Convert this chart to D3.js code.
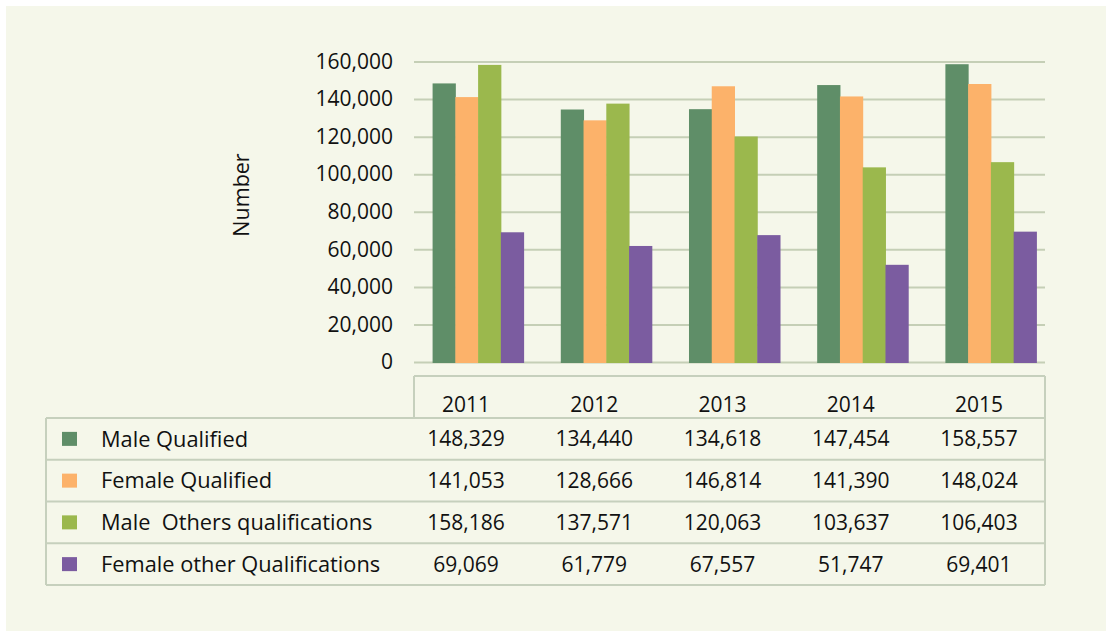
<!DOCTYPE html>
<html>
<head>
<meta charset="utf-8">
<script src="https://cdn.jsdelivr.net/npm/d3@7"></script>
<style>
  html, body { margin: 0; padding: 0; background: #ffffff; }
  svg { display: block; }
  text { font-family: "Open Sans", sans-serif; fill: #111111; }
</style>
</head>
<body>
<svg id="chart" width="1106" height="631"></svg>
<script>
// ---- data ----
const years = ["2011", "2012", "2013", "2014", "2015"];
const seriesNames = ["Male Qualified", "Female Qualified", "Male  Others qualifications", "Female other Qualifications"];
const maleQualified = [148329, 134440, 134618, 147454, 158557];
const femaleQualified = [141053, 128666, 146814, 141390, 148024];
const maleOthers = [158186, 137571, 120063, 103637, 106403];
const femaleOthers = [69069, 61779, 67557, 51747, 69401];
const yTicks = [0, 20000, 40000, 60000, 80000, 100000, 120000, 140000, 160000];
const colors = ["#5f8e68", "#fcb26a", "#9bb84d", "#7b5ca0"];

const seriesValues = [maleQualified, femaleQualified, maleOthers, femaleOthers];

const svg = d3.select("#chart");
const gridColor = "#c5cfb6";
const borderColor = "#c6d0bd";

// background panel
svg.append("rect").attr("x", 6).attr("y", 6).attr("width", 1100).attr("height", 625)
  .attr("fill", "#f5f7ea");

// scales
const plotLeft = 414, plotRight = 1045, plotTop = 61.5, plotBottom = 362;
const y = d3.scaleLinear().domain([0, 160000]).range([plotBottom, plotTop]);
const x0 = d3.scaleBand().domain(years).range([414, 1055]).paddingInner(0.29).paddingOuter(0.145);
const x1 = d3.scaleBand().domain(d3.range(seriesNames.length)).range([0, x0.bandwidth()]);

// gridlines
const grid = svg.append("g").attr("transform", `translate(${plotLeft},0)`)
  .call(d3.axisLeft(y).tickValues(yTicks).tickSize(-(plotRight - plotLeft)).tickFormat(""));
grid.select(".domain").remove();
grid.selectAll("line").attr("stroke", gridColor).attr("stroke-width", 2);

// y labels
const yAxis = svg.append("g").attr("transform", `translate(${plotLeft},0)`)
  .call(d3.axisLeft(y).tickValues(yTicks).tickSize(0).tickPadding(21).tickFormat(d3.format(",")));
yAxis.select(".domain").remove();
yAxis.selectAll("text").attr("font-size", 21).attr("font-family", "Open Sans, sans-serif").attr("fill", "#111111");

// y title
svg.append("text").attr("transform", "translate(249,195) rotate(-90)")
  .attr("text-anchor", "middle").attr("font-size", 21.5).text("Number");

// bars
const groups = svg.append("g").selectAll("g").data(years).join("g")
  .attr("transform", d => `translate(${x0(d)},0)`);
groups.selectAll("rect").data((d, i) => seriesValues.map((s, k) => ({k, v: s[i]}))).join("rect")
  .attr("x", d => x1(d.k)).attr("width", x1.bandwidth() + 0.5)
  .attr("y", d => y(d.v)).attr("height", d => y(0) - y(d.v) + 1)
  .attr("fill", d => colors[d.k]);

// data table
const tLeft = 46, tRight = 1045, headTop = 376, headBottom = 418, rowH = 41.75;
const colX = d3.scaleBand().domain(years).range([402, 1043]);
const tbl = svg.append("g");
const line = (x1_, y1_, x2_, y2_) => tbl.append("line").attr("x1", x1_).attr("y1", y1_).attr("x2", x2_).attr("y2", y2_)
  .attr("stroke", borderColor).attr("stroke-width", 2);
line(plotLeft, headTop, tRight, headTop);
line(plotLeft, headTop, plotLeft, headBottom);
line(tRight, headTop, tRight, headBottom + rowH * 4);
line(tLeft, headBottom, tLeft, headBottom + rowH * 4);
for (let r = 0; r <= 4; r++) line(tLeft, headBottom + rowH * r, tRight, headBottom + rowH * r);

// header
tbl.selectAll("text.year").data(years).join("text").attr("class", "year")
  .attr("x", d => colX(d) + colX.bandwidth() / 2).attr("y", 412)
  .attr("text-anchor", "middle").attr("font-size", 21).text(d => d);

// rows
seriesNames.forEach((name, r) => {
  const cy = headBottom + rowH * r + rowH / 2;
  tbl.append("rect").attr("x", 62).attr("y", cy - 7).attr("width", 15).attr("height", 14).attr("fill", colors[r]);
  tbl.append("text").attr("x", 101).attr("y", cy).attr("dy", "0.36em").attr("font-size", 21.8)
    .style("white-space", "pre").text(name);
  tbl.selectAll(null).data(seriesValues[r]).join("text")
    .attr("x", (d, i) => colX(years[i]) + colX.bandwidth() / 2).attr("y", cy).attr("dy", "0.36em")
    .attr("text-anchor", "middle").attr("font-size", 21).text(d => d3.format(",")(d));
});
</script>
</body>
</html>
